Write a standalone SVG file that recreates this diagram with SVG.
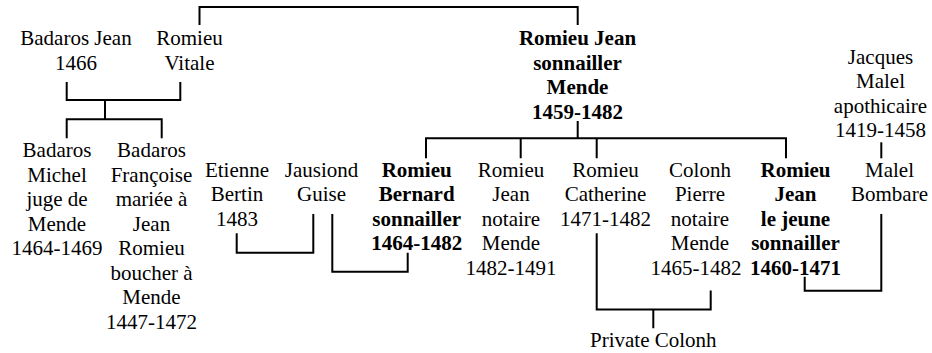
<svg xmlns="http://www.w3.org/2000/svg" width="932" height="353" viewBox="0 0 932 353">
<style>
text{font-family:'Liberation Serif','Times New Roman',serif;font-size:21px;fill:#000;text-anchor:middle}
.b{font-weight:bold}
.c{fill:none;stroke:#000;stroke-width:2}
</style>
<rect width="932" height="353" fill="#fff"/>
<g id="connectors" class="c">
<path d="M199.5 25V7H577.7V25"/>
<path d="M66.7 82V100H180.3V82M105 100V119.3M66.7 138.3V119.3H161.7V138.3"/>
<path d="M577.7 121V138.3M426 158.3V138.3H786V158.3M520.7 138.3V158.3M596.7 138.3V158.3"/>
<path d="M236.7 233.3V252.7H313.3V214"/>
<path d="M332.3 214V271.7H407.7V252.7"/>
<path d="M596.7 233.3V309.5H710.7V290.5M653.3 309.5V328.3"/>
<path d="M804.7 276.7V290.7H881.3V214"/>
<path d="M881.3 142.3V158.3"/>
</g>
<g id="badaros-jean"><text x="76" y="45">Badaros Jean<tspan x="76" dy="24.5">1466</tspan></text></g>
<g id="romieu-vitale"><text x="189.5" y="45">Romieu<tspan x="189.5" dy="24.5">Vitale</tspan></text></g>
<g id="romieu-jean"><text class="b" x="577.5" y="45">Romieu Jean<tspan x="577.5" dy="24.5">sonnailler</tspan><tspan x="577.5" dy="24.5">Mende</tspan><tspan x="577.5" dy="24.5">1459-1482</tspan></text></g>
<g id="jacques-malel"><text x="880.5" y="63.5">Jacques<tspan x="880.5" dy="24.5">Malel</tspan><tspan x="880.5" dy="24.5">apothicaire</tspan><tspan x="880.5" dy="24.5">1419-1458</tspan></text></g>
<g id="badaros-michel"><text x="57" y="157.3">Badaros<tspan x="57" dy="24.5">Michel</tspan><tspan x="57" dy="24.5">juge de</tspan><tspan x="57" dy="24.5">Mende</tspan><tspan x="57" dy="24.5">1464-1469</tspan></text></g>
<g id="badaros-francoise"><text x="151.5" y="157.3">Badaros<tspan x="151.5" dy="24.5">Françoise</tspan><tspan x="151.5" dy="24.5">mariée à</tspan><tspan x="151.5" dy="24.5">Jean</tspan><tspan x="151.5" dy="24.5">Romieu</tspan><tspan x="151.5" dy="24.5">boucher à</tspan><tspan x="151.5" dy="24.5">Mende</tspan><tspan x="151.5" dy="24.5">1447-1472</tspan></text></g>
<g id="etienne-bertin"><text x="237" y="176.7">Etienne<tspan x="237" dy="24.5">Bertin</tspan><tspan x="237" dy="24.5">1483</tspan></text></g>
<g id="jausiond-guise"><text x="321.5" y="176.7">Jausiond<tspan x="321.5" dy="24.5">Guise</tspan></text></g>
<g id="romieu-bernard"><text class="b" x="416.7" y="176.7">Romieu<tspan x="416.7" dy="24.5">Bernard</tspan><tspan x="416.7" dy="24.5">sonnailler</tspan><tspan x="416.7" dy="24.5">1464-1482</tspan></text></g>
<g id="romieu-jean-notaire"><text x="511" y="176.7">Romieu<tspan x="511" dy="24.5">Jean</tspan><tspan x="511" dy="24.5">notaire</tspan><tspan x="511" dy="24.5">Mende</tspan><tspan x="511" dy="24.5">1482-1491</tspan></text></g>
<g id="romieu-catherine"><text x="605.5" y="176.7">Romieu<tspan x="605.5" dy="24.5">Catherine</tspan><tspan x="605.5" dy="24.5">1471-1482</tspan></text></g>
<g id="colonh-pierre"><text x="700" y="176.7">Colonh<tspan x="700" dy="24.5">Pierre</tspan><tspan x="700" dy="24.5">notaire</tspan><tspan x="700" dy="24.5">Mende</tspan><tspan x="696" dy="24.5">1465-1482</tspan></text></g>
<g id="romieu-jean-le-jeune"><text class="b" x="795.5" y="176.7">Romieu<tspan x="795.5" dy="24.5">Jean</tspan><tspan x="795.5" dy="24.5">le jeune</tspan><tspan x="795.5" dy="24.5">sonnailler</tspan><tspan x="795.5" dy="24.5">1460-1471</tspan></text></g>
<g id="malel-bombare"><text x="889.5" y="176.7">Malel<tspan x="889.5" dy="24.5">Bombare</tspan></text></g>
<g id="private-colonh"><text x="653.3" y="346.7">Private Colonh</text></g>
</svg>
